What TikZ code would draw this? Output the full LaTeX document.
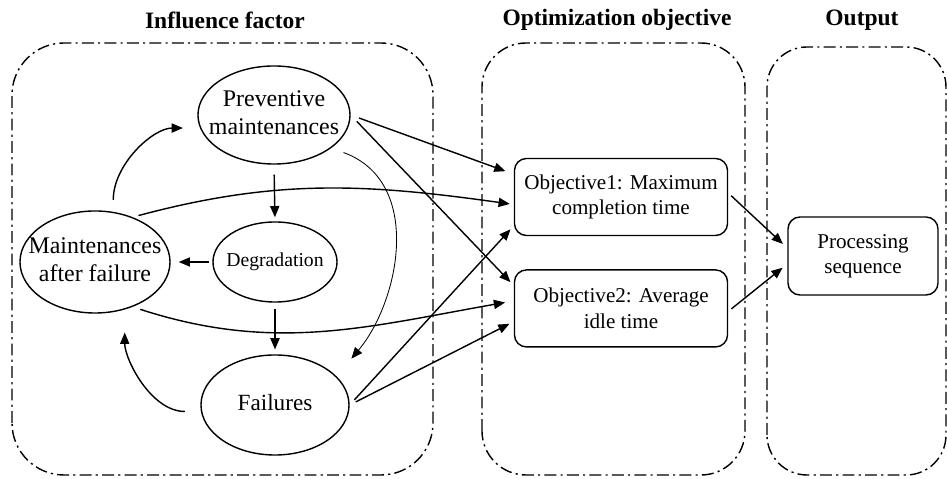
\documentclass[tikz,border=0pt]{standalone}
\usepackage{fontspec}
\setmainfont{Liberation Serif}
\usetikzlibrary{positioning}
\usetikzlibrary{shapes.geometric}
\usetikzlibrary{arrows.meta}
% text that does not widen the ellipse round it
\newcommand{\inside}[1]{\makebox[0pt]{\begin{tabular}{@{}c@{}}#1\end{tabular}}}

\begin{document}
\begin{tikzpicture}[x=0.025cm, y=0.025cm, align=center,
        arrow/.style={-{Triangle[length=8pt, width=6.5pt]}, line width=1pt},
        thinarrow/.style={-{Triangle[length=8pt, width=6.5pt]}, line width=0.6pt},
        factor/.style={draw, ellipse, line width=1pt, inner sep=0pt, font=\fontsize{17}{19.5}\selectfont},
        goal/.style={draw, rectangle, rounded corners=0.3cm, line width=1pt, minimum width=5.325cm, minimum height=1.925cm, font=\fontsize{15}{18}\selectfont},
        group/.style={line width=1pt, dash pattern=on 8.5pt off 3pt on 1.5pt off 3pt},
        title/.style={font=\fontsize{16.7}{20}\selectfont\bfseries}]
        \useasboundingbox (0,0) rectangle (947,479);

        % the three dash-dotted groups
        \draw[group, rounded corners=1.3cm] (12,4) rectangle (433,436);
        \draw[group, rounded corners=1.1cm] (482,4) rectangle (745,436);
        \draw[group, rounded corners=1cm] (767,4) rectangle (946,432);
        \node[title] (tinf) at (225,459) {Influence factor};
        \node[title] (topt) at (617,459) {Optimization objective};
        \node[title] (tout) at (862,459) {Output};

        % factors
        \node[factor, minimum width=3.8cm, minimum height=2.45cm] (prev) at (274,364) {\inside{Preventive\\maintenances}};
        \node[factor, minimum width=3.75cm, minimum height=2.55cm] (maint) at (95,217) {\inside{Maintenances\\after failure}};
        \node[factor, minimum width=3.1cm, minimum height=2cm, font=\fontsize{14}{16}\selectfont] (deg) at (275,217) {\inside{Degradation}};
        \node[factor, minimum width=3.7cm, minimum height=2.5cm, font=\fontsize{16.5}{19}\selectfont] (fail) at (275,74) {\inside{Failures}};

        % objectives and output
        \node[goal] (obj1) at (621,282) {Objective1: Maximum\\completion time};
        \node[goal, below = 0.825cm of obj1] (obj2) {Objective2: Average\\idle time};
        \node[goal, minimum width=3.75cm, minimum height=1.95cm] (proc) at (863,223) {Processing\\sequence};

        % inside the factor group
        \draw[arrow, shorten <=0.25cm, shorten >=0.1cm] (prev.south) -- (deg.north);
        \draw[arrow, shorten <=0.08cm, shorten >=0.2cm] (deg.west) -- (maint.east);
        \draw[arrow, shorten <=0.15cm, shorten >=0.12cm] (deg.south) -- (fail.north);
        \draw[arrow, shorten <=0.3cm, shorten >=0.425cm] (maint.70) to[out=90, in=180] (prev.190);
        \draw[arrow, shorten <=0.4cm, shorten >=0.575cm] (fail.185) to[out=180, in=-90] (maint.-58);
        \draw[thinarrow, shorten <=0.325cm, shorten >=0.575cm] (prev.-30) to[out=-20, in=50, looseness=1.1] (fail.25);

        % factors to objectives
        \draw[arrow, shorten <=0.15cm, shorten >=0.1cm] (maint.50) to[out=15, in=172] (obj1.184);
        \draw[arrow, shorten <=0.2cm, shorten >=0.22cm] (maint.-50) to[out=-18, in=190] (obj2.176);
        \draw[arrow, shorten <=0.22cm, shorten >=0.22cm] (prev.east) -- (obj1.168);
        \draw[arrow, shorten <=0.22cm, shorten >=0.12cm] (prev.east) -- (obj2.168);
        \draw[arrow, shorten <=0.17cm, shorten >=0.12cm] (fail.east) -- (obj1.195);
        \draw[arrow, shorten <=0.17cm, shorten >=0.12cm] (fail.east) -- (obj2.187);

        % objectives to output
        \draw[arrow, shorten <=0.1cm, shorten >=0.15cm] (obj1.east) ++(0,4) coordinate (o1) (o1) -- (proc.174);
        \draw[arrow, shorten <=0.1cm, shorten >=0.15cm] (obj2.east) ++(0,-3) coordinate (o2) (o2) -- (proc.186);
\end{tikzpicture}
\end{document}
